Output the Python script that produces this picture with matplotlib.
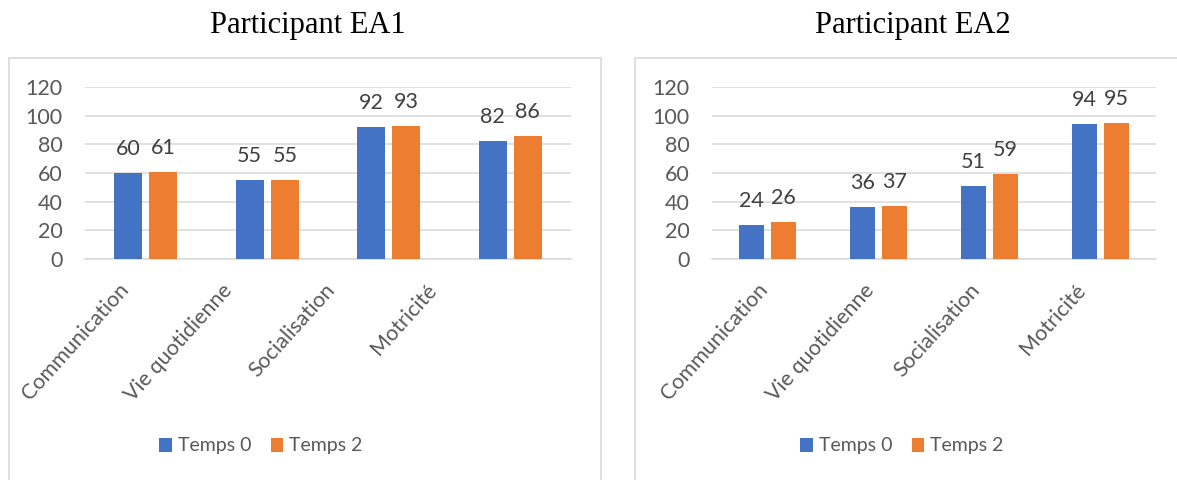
import numpy as np
import matplotlib.pyplot as plt
from matplotlib.patches import Rectangle
from matplotlib.transforms import ScaledTranslation

# données des deux participants
categories = ['Communication', 'Vie quotidienne', 'Socialisation', 'Motricité']
ea1_temps0 = [60, 55, 92, 82]
ea1_temps2 = [61, 55, 93, 86]
ea2_temps0 = [24, 36, 51, 94]
ea2_temps2 = [26, 37, 59, 95]
titles = ['Participant EA1', 'Participant EA2']
series_names = ['Temps 0', 'Temps 2']
y_ticks = [0, 20, 40, 60, 80, 100, 120]

blue = '#4472C4'
orange = '#ED7D31'
grid_col = '#D9D9D9'
txt_col = '#595959'
lbl_col = '#404040'

plt.rcParams['font.family'] = ['Lato', 'DejaVu Sans']

fig = plt.figure(figsize=(11.77, 4.8), dpi=100)
W, H = 1177, 480

# cadres des graphiques
fig.patches.append(Rectangle((9 / W, -0.01), 592 / W, 1.01 - 58 / H,
                             transform=fig.transFigure, fill=False,
                             edgecolor=grid_col, lw=1.2))
fig.patches.append(Rectangle((635 / W, -0.01), 560 / W, 1.01 - 58 / H,
                             transform=fig.transFigure, fill=False,
                             edgecolor=grid_col, lw=1.2))

panels = [
    dict(rect=[85 / W, 1 - 259 / H, 486 / W, 172 / H], t0=ea1_temps0, t2=ea1_temps2,
         title_x=308 / W, legend_x=261 / W, shifts=[-28, -46, -65, -85]),
    dict(rect=[712 / W, 1 - 259 / H, 444 / W, 172 / H], t0=ea2_temps0, t2=ea2_temps2,
         title_x=913 / W, legend_x=902 / W, shifts=[-11, -15, -20, -26]),
]

x = np.arange(len(categories))
w = 0.23
off = 0.145
fs = 15.5

for p, title in zip(panels, titles):
    ax = fig.add_axes(p['rect'])
    b0 = ax.bar(x - off, p['t0'], w, color=blue, label=series_names[0], zorder=3)
    b2 = ax.bar(x + off, p['t2'], w, color=orange, label=series_names[1], zorder=3)
    for bars in (b0, b2):
        for rect in bars:
            ax.annotate(f'{int(rect.get_height())}',
                        (rect.get_x() + rect.get_width() / 2, rect.get_height()),
                        xytext=(0, 13), textcoords='offset points',
                        ha='center', va='baseline', fontsize=fs, color=lbl_col)

    ax.set_xlim(-0.5, len(categories) - 0.5)
    ax.set_ylim(0, 120)
    ax.set_yticks(y_ticks)
    ax.yaxis.grid(True, color=grid_col, lw=1.1, zorder=0)
    ax.set_axisbelow(True)
    for s in ['top', 'right', 'left']:
        ax.spines[s].set_visible(False)
    ax.spines['bottom'].set_color(grid_col)
    ax.spines['bottom'].set_linewidth(1.1)
    ax.tick_params(axis='y', length=0, pad=16, labelsize=fs, labelcolor=txt_col)
    ax.tick_params(axis='x', length=0, pad=15, labelsize=fs, labelcolor=txt_col)
    ax.set_xticks(x)
    ax.set_xticklabels(categories, rotation=48, ha='right', va='top',
                       rotation_mode='anchor')
    for lab, dx in zip(ax.get_xticklabels(), p['shifts']):
        lab.set_transform(lab.get_transform() +
                          ScaledTranslation(dx / 100, 0, fig.dpi_scale_trans))

    fig.text(p['title_x'], 1 - 33 / H, title, ha='center', va='baseline',
             fontsize=22, family='Liberation Serif', color='black')
    fig.legend(handles=[b0, b2], labels=series_names, loc='center',
               bbox_to_anchor=(p['legend_x'], 1 - 446 / H), ncol=2, frameon=False,
               fontsize=14, labelcolor=txt_col, handlelength=0.65,
               handleheight=0.7, handletextpad=0.3, columnspacing=1.0)

plt.savefig('out.png', dpi=100)
